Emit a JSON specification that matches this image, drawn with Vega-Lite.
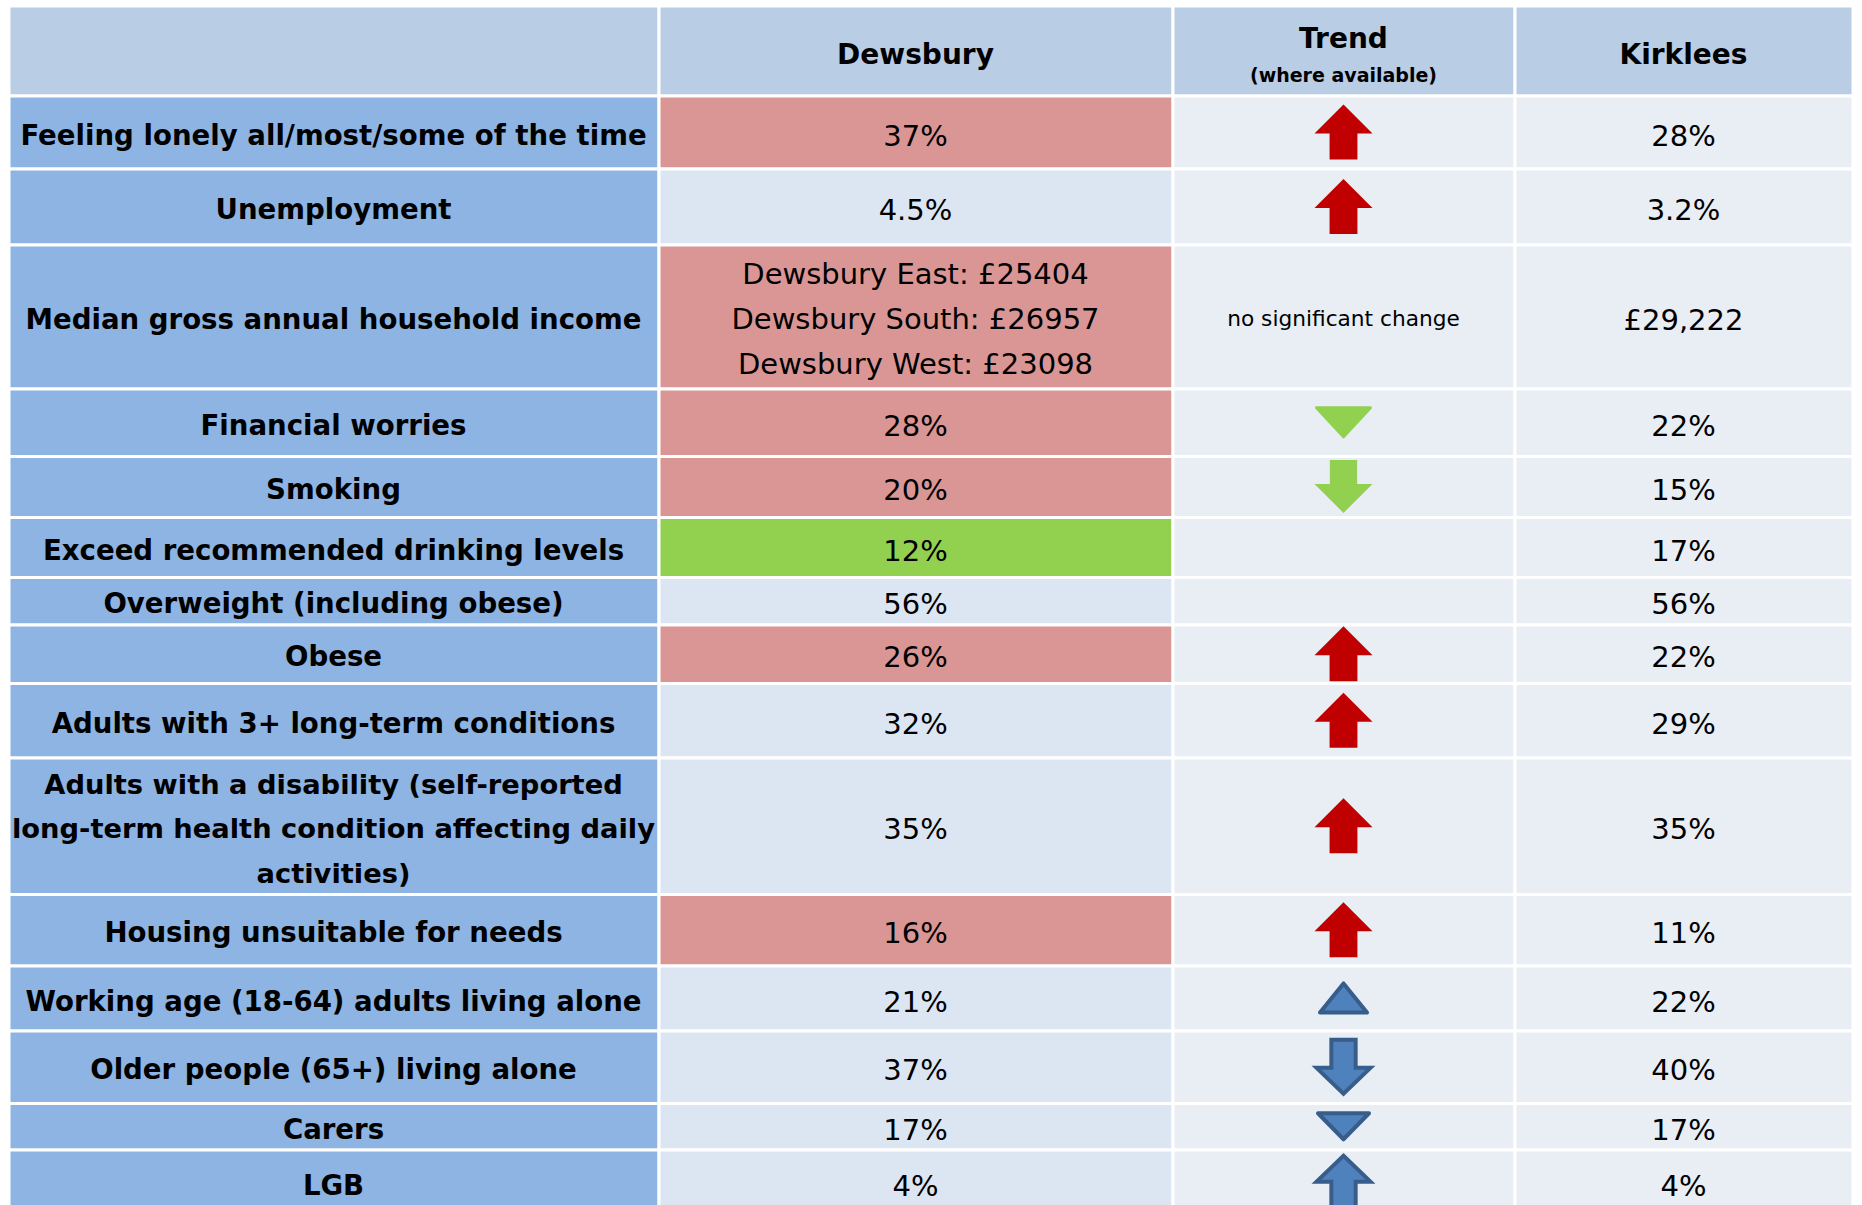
{
  "$schema": "https://vega.github.io/schema/vega-lite/v6.json",
  "width": 1862,
  "height": 1205,
  "padding": 0,
  "autosize": {"type": "none"},
  "background": "#FFFFFF",
  "config": {"view": {"stroke": null}},
  "data": {
    "values": [
      {"r": 0, "c": 0, "kind": "header", "text": ""},
      {"r": 0, "c": 1, "kind": "header", "text": "Dewsbury"},
      {"r": 0, "c": 2, "kind": "header", "text": "Trend", "sub": "(where available)"},
      {"r": 0, "c": 3, "kind": "header", "text": "Kirklees"},

      {"r": 1, "c": 0, "kind": "indicator", "text": "Feeling lonely all/most/some of the time"},
      {"r": 1, "c": 1, "kind": "worse", "text": "37%"},
      {"r": 1, "c": 2, "kind": "trend", "trend": "increase", "valence": "worse"},
      {"r": 1, "c": 3, "kind": "kirklees", "text": "28%"},

      {"r": 2, "c": 0, "kind": "indicator", "text": "Unemployment"},
      {"r": 2, "c": 1, "kind": "similar", "text": "4.5%"},
      {"r": 2, "c": 2, "kind": "trend", "trend": "increase", "valence": "worse"},
      {"r": 2, "c": 3, "kind": "kirklees", "text": "3.2%"},

      {"r": 3, "c": 0, "kind": "indicator", "text": "Median gross annual household income"},
      {"r": 3, "c": 1, "kind": "worse", "text": ["Dewsbury East: £25404", "Dewsbury South: £26957", "Dewsbury West: £23098"]},
      {"r": 3, "c": 2, "kind": "trend", "note": "no significant change"},
      {"r": 3, "c": 3, "kind": "kirklees", "text": "£29,222"},

      {"r": 4, "c": 0, "kind": "indicator", "text": "Financial worries"},
      {"r": 4, "c": 1, "kind": "worse", "text": "28%"},
      {"r": 4, "c": 2, "kind": "trend", "trend": "slight decrease", "valence": "better"},
      {"r": 4, "c": 3, "kind": "kirklees", "text": "22%"},

      {"r": 5, "c": 0, "kind": "indicator", "text": "Smoking"},
      {"r": 5, "c": 1, "kind": "worse", "text": "20%"},
      {"r": 5, "c": 2, "kind": "trend", "trend": "decrease", "valence": "better"},
      {"r": 5, "c": 3, "kind": "kirklees", "text": "15%"},

      {"r": 6, "c": 0, "kind": "indicator", "text": "Exceed recommended drinking levels"},
      {"r": 6, "c": 1, "kind": "better", "text": "12%"},
      {"r": 6, "c": 2, "kind": "trend"},
      {"r": 6, "c": 3, "kind": "kirklees", "text": "17%"},

      {"r": 7, "c": 0, "kind": "indicator", "text": "Overweight (including obese)"},
      {"r": 7, "c": 1, "kind": "similar", "text": "56%"},
      {"r": 7, "c": 2, "kind": "trend"},
      {"r": 7, "c": 3, "kind": "kirklees", "text": "56%"},

      {"r": 8, "c": 0, "kind": "indicator", "text": "Obese"},
      {"r": 8, "c": 1, "kind": "worse", "text": "26%"},
      {"r": 8, "c": 2, "kind": "trend", "trend": "increase", "valence": "worse"},
      {"r": 8, "c": 3, "kind": "kirklees", "text": "22%"},

      {"r": 9, "c": 0, "kind": "indicator", "text": "Adults with 3+ long-term conditions"},
      {"r": 9, "c": 1, "kind": "similar", "text": "32%"},
      {"r": 9, "c": 2, "kind": "trend", "trend": "increase", "valence": "worse"},
      {"r": 9, "c": 3, "kind": "kirklees", "text": "29%"},

      {"r": 10, "c": 0, "kind": "indicator", "text": ["Adults with a disability (self-reported", "long-term health condition affecting daily", "activities)"]},
      {"r": 10, "c": 1, "kind": "similar", "text": "35%"},
      {"r": 10, "c": 2, "kind": "trend", "trend": "increase", "valence": "worse"},
      {"r": 10, "c": 3, "kind": "kirklees", "text": "35%"},

      {"r": 11, "c": 0, "kind": "indicator", "text": "Housing unsuitable for needs"},
      {"r": 11, "c": 1, "kind": "worse", "text": "16%"},
      {"r": 11, "c": 2, "kind": "trend", "trend": "increase", "valence": "worse"},
      {"r": 11, "c": 3, "kind": "kirklees", "text": "11%"},

      {"r": 12, "c": 0, "kind": "indicator", "text": "Working age (18-64) adults living alone"},
      {"r": 12, "c": 1, "kind": "similar", "text": "21%"},
      {"r": 12, "c": 2, "kind": "trend", "trend": "slight increase", "valence": "neutral"},
      {"r": 12, "c": 3, "kind": "kirklees", "text": "22%"},

      {"r": 13, "c": 0, "kind": "indicator", "text": "Older people (65+) living alone"},
      {"r": 13, "c": 1, "kind": "similar", "text": "37%"},
      {"r": 13, "c": 2, "kind": "trend", "trend": "decrease", "valence": "neutral"},
      {"r": 13, "c": 3, "kind": "kirklees", "text": "40%"},

      {"r": 14, "c": 0, "kind": "indicator", "text": "Carers"},
      {"r": 14, "c": 1, "kind": "similar", "text": "17%"},
      {"r": 14, "c": 2, "kind": "trend", "trend": "slight decrease", "valence": "neutral"},
      {"r": 14, "c": 3, "kind": "kirklees", "text": "17%"},

      {"r": 15, "c": 0, "kind": "indicator", "text": "LGB"},
      {"r": 15, "c": 1, "kind": "similar", "text": "4%"},
      {"r": 15, "c": 2, "kind": "trend", "trend": "increase", "valence": "neutral"},
      {"r": 15, "c": 3, "kind": "kirklees", "text": "4%"}
    ]
  },
  "encoding": {
    "x": {
      "field": "c", "type": "quantitative",
      "bin": {"step": 1, "extent": [0, 4]},
      "scale": {"domain": [0, 1, 2, 3, 4], "range": [8.5, 658.5, 1172.5, 1514.5, 1852.5], "nice": false, "zero": false},
      "axis": null
    },
    "y": {
      "field": "r", "type": "quantitative",
      "bin": {"step": 1, "extent": [0, 16]},
      "scale": {
        "domain": [0, 1, 2, 3, 4, 5, 6, 7, 8, 9, 10, 11, 12, 13, 14, 15, 16],
        "range": [5.5, 95.5, 168.5, 244.5, 388.5, 456, 517, 577, 624.5, 683, 757.5, 894, 965.5, 1030.5, 1103, 1149.5, 1216],
        "nice": false, "zero": false
      },
      "axis": null
    }
  },
  "layer": [
    {
      "mark": {"type": "rect", "stroke": "#FFFFFF", "strokeWidth": 3, "opacity": 1},
      "encoding": {
        "color": {
          "field": "kind", "type": "nominal", "legend": null,
          "scale": {
            "domain": ["header", "indicator", "worse", "better", "similar", "trend", "kirklees"],
            "range": ["#B9CDE5", "#8DB4E2", "#DA9694", "#92D050", "#DCE6F2", "#E9EDF4", "#E9EDF4"]
          }
        }
      }
    },
    {
      "transform": [{"filter": "datum.r == 0 && datum.c != 2"}],
      "mark": {"type": "text", "font": "DejaVu Sans", "fontWeight": "bold", "fontSize": 28, "color": "#000000", "align": "center", "baseline": "middle", "dy": 5},
      "encoding": {"text": {"field": "text"}}
    },
    {
      "transform": [{"filter": "datum.r == 0 && datum.c == 2"}],
      "mark": {"type": "text", "font": "DejaVu Sans", "fontWeight": "bold", "fontSize": 28, "color": "#000000", "align": "center", "baseline": "middle", "dy": -11},
      "encoding": {"text": {"field": "text"}}
    },
    {
      "transform": [{"filter": "datum.r == 0 && datum.c == 2"}],
      "mark": {"type": "text", "font": "DejaVu Sans", "fontWeight": "bold", "fontSize": 19, "color": "#000000", "align": "center", "baseline": "middle", "dy": 25},
      "encoding": {"text": {"field": "sub"}}
    },
    {
      "transform": [{"filter": "datum.r > 0 && datum.c == 0 && !isArray(datum.text)"}],
      "mark": {"type": "text", "font": "DejaVu Sans", "fontWeight": "bold", "fontSize": 27.6, "color": "#000000", "align": "center", "baseline": "middle", "dy": 4.5},
      "encoding": {"text": {"field": "text"}}
    },
    {
      "transform": [{"filter": "datum.r > 0 && datum.c == 0 && isArray(datum.text)"}],
      "mark": {"type": "text", "font": "DejaVu Sans", "fontWeight": "bold", "fontSize": 27.3, "lineHeight": 44.5, "color": "#000000", "align": "center", "baseline": "middle", "dy": -40},
      "encoding": {"text": {"field": "text"}}
    },
    {
      "transform": [{"filter": "datum.r > 0 && (datum.c == 1 || datum.c == 3) && !isArray(datum.text)"}],
      "mark": {"type": "text", "font": "DejaVu Sans", "fontSize": 29, "color": "#000000", "align": "center", "baseline": "middle", "dy": 4.5},
      "encoding": {"text": {"field": "text"}}
    },
    {
      "transform": [{"filter": "datum.r > 0 && (datum.c == 1 || datum.c == 3) && isArray(datum.text)"}],
      "mark": {"type": "text", "font": "DejaVu Sans", "fontSize": 29, "lineHeight": 45, "color": "#000000", "align": "center", "baseline": "middle", "dy": -42},
      "encoding": {"text": {"field": "text"}}
    },
    {
      "transform": [{"filter": "datum.c == 2 && isValid(datum.note)"}],
      "mark": {"type": "text", "font": "DejaVu Sans", "fontSize": 21.7, "color": "#000000", "align": "center", "baseline": "middle", "dy": 2},
      "encoding": {"text": {"field": "note"}}
    },
    {
      "transform": [{"filter": "datum.c == 2 && datum.trend == 'increase' && datum.valence == 'worse'"}],
      "mark": {"type": "point", "filled": true, "opacity": 1, "fill": "#C00000", "strokeWidth": 0, "size": 3364,
        "shape": "M0,-0.95 L1,0.05 L0.48,0.05 L0.48,0.95 L-0.48,0.95 L-0.48,0.05 L-1,0.05 Z"}
    },
    {
      "transform": [{"filter": "datum.c == 2 && datum.trend == 'slight decrease' && datum.valence == 'better'"}],
      "mark": {"type": "point", "filled": true, "opacity": 1, "fill": "#92D050", "stroke": "#92D050", "strokeWidth": 3, "strokeJoin": "round", "size": 2916,
        "shape": "M-1,-0.54 L1,-0.54 L0,0.54 Z"}
    },
    {
      "transform": [{"filter": "datum.c == 2 && datum.trend == 'decrease' && datum.valence == 'better'"}],
      "mark": {"type": "point", "filled": true, "opacity": 1, "fill": "#92D050", "strokeWidth": 0, "size": 3364,
        "shape": "M-0.47,-0.91 L0.47,-0.91 L0.47,-0.09 L1,-0.09 L0,0.91 L-1,-0.09 L-0.47,-0.09 Z"}
    },
    {
      "transform": [{"filter": "datum.c == 2 && datum.trend == 'slight increase' && datum.valence == 'neutral'"}],
      "mark": {"type": "point", "filled": true, "opacity": 1, "fill": "#4F81BD", "stroke": "#385D8A", "strokeWidth": 4, "strokeJoin": "round", "size": 2209,
        "shape": "M0,-0.62 L1,0.62 L-1,0.62 Z"}
    },
    {
      "transform": [{"filter": "datum.c == 2 && datum.trend == 'decrease' && datum.valence == 'neutral'"}],
      "mark": {"type": "point", "filled": true, "opacity": 1, "fill": "#4F81BD", "stroke": "#385D8A", "strokeWidth": 4, "strokeJoin": "miter", "size": 2916,
        "shape": "M-0.45,-1 L0.45,-1 L0.45,0.04 L1,0.04 L0,1 L-1,0.04 L-0.45,0.04 Z"}
    },
    {
      "transform": [{"filter": "datum.c == 2 && datum.trend == 'slight decrease' && datum.valence == 'neutral'"}],
      "mark": {"type": "point", "filled": true, "opacity": 1, "fill": "#4F81BD", "stroke": "#385D8A", "strokeWidth": 4, "strokeJoin": "round", "size": 2601,
        "shape": "M-1,-0.51 L1,-0.51 L0,0.51 Z"}
    },
    {
      "transform": [{"filter": "datum.c == 2 && datum.trend == 'increase' && datum.valence == 'neutral'"}],
      "mark": {"type": "point", "filled": true, "opacity": 1, "fill": "#4F81BD", "stroke": "#385D8A", "strokeWidth": 4, "strokeJoin": "miter", "size": 2916,
        "shape": "M0,-1 L1,-0.04 L0.45,-0.04 L0.45,1 L-0.45,1 L-0.45,-0.04 L-1,-0.04 Z"}
    }
  ]
}
